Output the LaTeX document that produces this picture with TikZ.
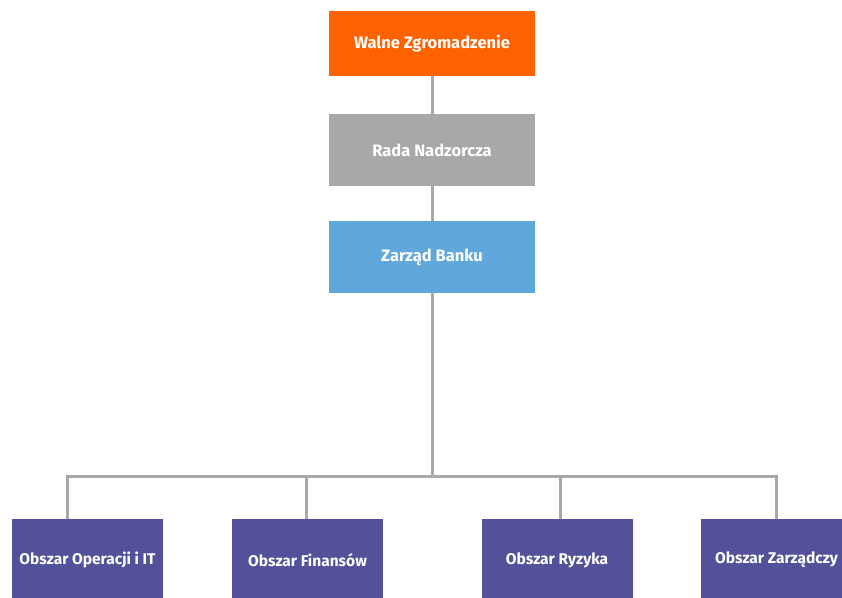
\documentclass[tikz,border=0pt]{standalone}
\usepackage{fontspec}
\setmainfont{Fira Sans}
\begin{document}
\begin{tikzpicture}[x=1pt,y=-1pt,
  box/.style={draw=none,inner sep=0pt,text=white,font=\fontsize{16.5}{19}\selectfont\bfseries},
  area/.style={box,fill=ingpurple,minimum width=151pt,minimum height=82pt,font=\fontsize{15.5}{18}\selectfont\bfseries},
  link/.style={draw=linegray,line width=3pt}]
\definecolor{ingorange}{HTML}{FF6200}
\definecolor{inggray}{HTML}{A8A8A8}
\definecolor{ingblue}{HTML}{60A8DC}
\definecolor{ingpurple}{HTML}{525199}
\definecolor{linegray}{HTML}{A8A8A8}
\useasboundingbox (0,0) rectangle (842,597);
\clip (0,0) rectangle (842,597);
\node[box,fill=ingorange,minimum width=206pt,minimum height=65pt] (wz) at (432,43.5) {Walne Zgromadzenie};
\node[box,fill=inggray,minimum width=206pt,minimum height=72pt] (rn) at (432,150) {Rada Nadzorcza};
\node[box,fill=ingblue,minimum width=206pt,minimum height=72pt] (zb) at (432,257) {Zarząd Banku};
\coordinate (bus) at (432,476);
\node[area] (o1) at (87.5,560) {Obszar Operacji i IT};
\node[area] (o2) at (307.5,560) {Obszar Finansów};
\node[area] (o3) at (557,560) {Obszar Ryzyka};
\node[area] (o4) at (776.5,560) {Obszar Zarządczy};
\draw[link] (wz.south) -- (rn.north);
\draw[link] (rn.south) -- (zb.north);
\draw[link] (zb.south) -- (bus);
\draw[link] (bus) -| ([xshift=-20.5pt]o1.north);
\draw[link] (bus) -| ([xshift=-1.5pt]o2.north);
\draw[link] (bus) -| ([xshift=3pt]o3.north);
\draw[link] (bus) -| ([xshift=-0.5pt]o4.north);
\end{tikzpicture}
\end{document}
